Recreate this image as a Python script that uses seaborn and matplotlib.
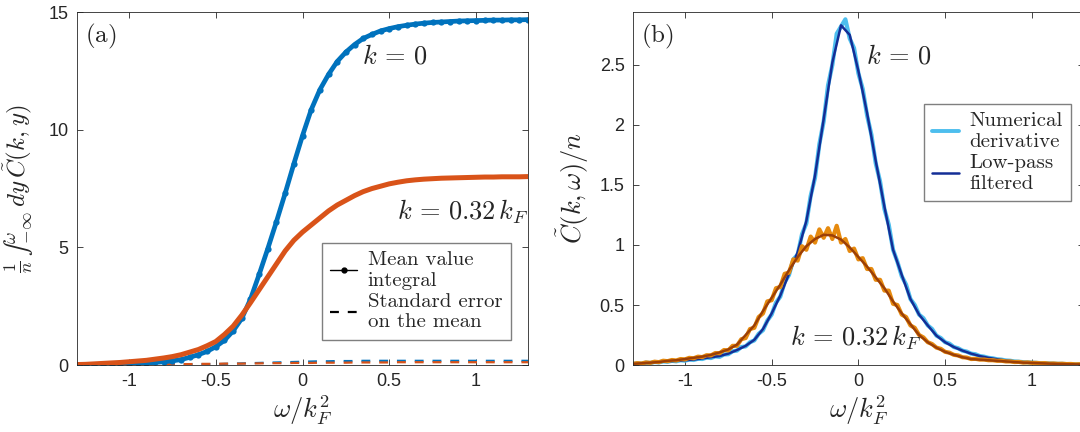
import numpy as np
import matplotlib
matplotlib.use("Agg")
import matplotlib.pyplot as plt
from matplotlib.lines import Line2D
import seaborn as sns

# omega / k_F^2 grids
omega = np.round(np.linspace(-1.3, 1.3, 53), 3)         # step 0.05
omega_fine = np.round(np.linspace(-1.3, 1.3, 105), 3)   # step 0.025

# (a) cumulative integral, k = 0 and k = 0.32 k_F
int_k0 = [0.0, 0.0, 0.01, 0.02, 0.03, 0.04, 0.05, 0.07, 0.09, 0.11, 0.14, 0.18,
          0.23, 0.33, 0.44, 0.58, 0.78, 1.05, 1.45, 1.98, 2.80, 3.85, 4.95,
          6.10, 7.30, 8.55, 9.75, 10.85, 11.70, 12.35, 12.90, 13.30, 13.62,
          13.88, 14.05, 14.20, 14.30, 14.38, 14.44, 14.49, 14.53, 14.56, 14.58,
          14.60, 14.62, 14.63, 14.64, 14.65, 14.66, 14.66, 14.67, 14.67, 14.68]
int_k032 = [0.02, 0.03, 0.05, 0.07, 0.09, 0.11, 0.14, 0.17, 0.20, 0.25, 0.30,
            0.36, 0.44, 0.55, 0.66, 0.82, 1.00, 1.30, 1.65, 2.12, 2.65, 3.20,
            3.75, 4.30, 4.85, 5.30, 5.65, 5.95, 6.25, 6.55, 6.80, 7.00, 7.20,
            7.37, 7.50, 7.60, 7.70, 7.77, 7.83, 7.87, 7.90, 7.92, 7.94, 7.95,
            7.96, 7.97, 7.98, 7.99, 7.99, 8.00, 8.00, 8.00, 8.01]
sem_k0 = [0.0, 0.0, 0.0, 0.0, 0.0, 0.0, 0.01, 0.01, 0.01, 0.01, 0.02, 0.02,
          0.02, 0.03, 0.03, 0.04, 0.04, 0.05, 0.06, 0.07, 0.08, 0.09, 0.10,
          0.11, 0.12, 0.13, 0.14, 0.15, 0.16, 0.16, 0.17, 0.17, 0.17, 0.18,
          0.18, 0.18, 0.18, 0.18, 0.18, 0.18, 0.18, 0.18, 0.18, 0.18, 0.18,
          0.18, 0.18, 0.18, 0.18, 0.18, 0.18, 0.18, 0.18]
sem_k032 = [0.0, 0.0, 0.01, 0.01, 0.01, 0.02, 0.02, 0.02, 0.03, 0.03, 0.03,
            0.04, 0.04, 0.04, 0.05, 0.05, 0.05, 0.06, 0.06, 0.06, 0.07, 0.07,
            0.08, 0.08, 0.08, 0.09, 0.09, 0.09, 0.10, 0.10, 0.10, 0.10, 0.11,
            0.11, 0.11, 0.11, 0.11, 0.12, 0.12, 0.12, 0.12, 0.12, 0.12, 0.12,
            0.12, 0.12, 0.12, 0.12, 0.12, 0.12, 0.12, 0.12, 0.12]

# (b) spectral function, low-pass filtered (step 0.05)
spec_k0 = [0.01, 0.015, 0.02, 0.025, 0.03, 0.035, 0.04, 0.045, 0.055, 0.065,
           0.075, 0.095, 0.125, 0.16, 0.21, 0.30, 0.43, 0.58, 0.76, 0.94,
           1.20, 1.58, 2.05, 2.52, 2.83, 2.75, 2.45, 2.10, 1.70, 1.32, 0.96,
           0.75, 0.55, 0.42, 0.33, 0.245, 0.19, 0.15, 0.12, 0.095, 0.075,
           0.06, 0.048, 0.038, 0.03, 0.024, 0.02, 0.016, 0.013, 0.01, 0.008,
           0.006, 0.005]
spec_k032 = [0.01, 0.015, 0.02, 0.025, 0.035, 0.04, 0.05, 0.06, 0.07, 0.085,
             0.105, 0.13, 0.17, 0.25, 0.33, 0.45, 0.56, 0.67, 0.79, 0.90,
             0.99, 1.05, 1.085, 1.08, 1.045, 0.98, 0.90, 0.82, 0.73, 0.64,
             0.53, 0.43, 0.34, 0.25, 0.19, 0.145, 0.11, 0.085, 0.065, 0.05,
             0.045, 0.04, 0.035, 0.03, 0.025, 0.02, 0.018, 0.015, 0.012, 0.01,
             0.008, 0.006, 0.005]

# (b) numerical derivative (noisy, step 0.025)
deriv_k0 = [0.010, 0.014, 0.012, 0.020, 0.017, 0.025, 0.022, 0.030, 0.027,
            0.035, 0.031, 0.040, 0.036, 0.046, 0.042, 0.052, 0.050, 0.062,
            0.058, 0.072, 0.068, 0.088, 0.090, 0.115, 0.120, 0.150, 0.155,
            0.190, 0.205, 0.26, 0.29, 0.37, 0.42, 0.52, 0.57, 0.69, 0.75,
            0.88, 0.92, 1.09, 1.18, 1.41, 1.56, 1.84, 2.03, 2.33, 2.50, 2.76,
            2.82, 2.88, 2.72, 2.64, 2.43, 2.30, 2.08, 1.92, 1.68, 1.53, 1.30,
            1.17, 0.96, 0.86, 0.74, 0.67, 0.55, 0.50, 0.42, 0.39, 0.33, 0.30,
            0.245, 0.225, 0.19, 0.178, 0.15, 0.140, 0.12, 0.112, 0.095, 0.090,
            0.075, 0.070, 0.060, 0.056, 0.048, 0.045, 0.038, 0.036, 0.030,
            0.028, 0.024, 0.023, 0.020, 0.018, 0.016, 0.015, 0.013, 0.012,
            0.010, 0.010, 0.008, 0.008, 0.006, 0.006, 0.005]
deriv_k032 = [0.010, 0.016, 0.013, 0.022, 0.018, 0.028, 0.024, 0.036, 0.032,
              0.042, 0.038, 0.050, 0.047, 0.060, 0.056, 0.070, 0.066, 0.082,
              0.080, 0.100, 0.098, 0.125, 0.122, 0.160, 0.160, 0.215, 0.225,
              0.300, 0.310, 0.400, 0.430, 0.530, 0.540, 0.640, 0.650, 0.760,
              0.770, 0.880, 0.870, 0.990, 0.960, 1.070, 1.020, 1.130, 1.060,
              1.140, 1.050, 1.160, 1.020, 1.050, 0.950, 0.970, 0.880, 0.890,
              0.800, 0.800, 0.710, 0.710, 0.620, 0.620, 0.510, 0.500, 0.420,
              0.400, 0.330, 0.310, 0.250, 0.230, 0.190, 0.175, 0.145, 0.135,
              0.110, 0.103, 0.085, 0.080, 0.065, 0.062, 0.050, 0.052, 0.045,
              0.046, 0.040, 0.040, 0.035, 0.036, 0.030, 0.030, 0.025, 0.026,
              0.020, 0.022, 0.018, 0.018, 0.015, 0.016, 0.012, 0.013, 0.010,
              0.011, 0.008, 0.009, 0.006, 0.007, 0.005]

sns.set_style("ticks")
plt.rcParams["font.family"] = ["Liberation Sans", "DejaVu Sans"]
plt.rcParams["mathtext.fontset"] = "cm"
plt.rcParams["axes.unicode_minus"] = False

fig = plt.figure(figsize=(10.8, 4.32), dpi=100)
ax1 = fig.add_axes([0.0713, 0.155, 0.4176, 0.817])
ax2 = fig.add_axes([0.586, 0.155, 0.4176, 0.817])

blue, orange = "#0072BD", "#D95319"

# panel (a)
sns.lineplot(x=omega, y=sem_k0, ax=ax1, color=blue, linewidth=1.6,
             linestyle=(0, (4, 4)))
sns.lineplot(x=omega, y=sem_k032, ax=ax1, color=orange, linewidth=1.6,
             linestyle=(0, (4, 4)))
sns.lineplot(x=omega, y=int_k0, ax=ax1, color=blue, linewidth=3.4,
             marker="o", markersize=4.5, markeredgewidth=0)
sns.lineplot(x=omega, y=int_k032, ax=ax1, color=orange, linewidth=3.6)

ax1.set_xlim(-1.3, 1.3)
ax1.set_ylim(0, 15)
ax1.set_yticks([0, 5, 10, 15])
ax1.set_xticks([-1, -0.5, 0, 0.5, 1])
ax1.set_xticklabels(["-1", "-0.5", "0", "0.5", "1"])
ax1.set_xlabel(r"$\omega/k_F^2$", fontsize=19, labelpad=2)
ax1.set_ylabel("$\\frac{1}{n}\\,\u222b_{-\\infty}^{\\omega}\\,dy\\,\\tilde{C}(k,y)$",
               fontsize=18, labelpad=9)
ax1.text(0.017, 0.972, r"$\mathrm{(a)}$", transform=ax1.transAxes,
         fontsize=18, va="top", ha="left")
ax1.text(0.343, 13.1, r"$k\,=\,0$", fontsize=19, va="center", ha="left")
ax1.text(0.545, 6.5, r"$k\,=\,0.32\,k_F$", fontsize=19, va="center", ha="left")

h1 = [Line2D([], [], color="black", linewidth=1.0, marker="o", markersize=3.5),
      Line2D([], [], color="black", linewidth=1.6, linestyle=(0, (4, 4)))]
ax1.legend(h1, ["Mean value\nintegral", "Standard error\non the mean"],
           loc="upper left", bbox_to_anchor=(0.543, 0.347),
           prop={"family": "cmr10", "size": 15}, frameon=True, fancybox=False,
           edgecolor="#7f7f7f", framealpha=1, handlelength=1.3,
           handletextpad=0.5, borderpad=0.4, labelspacing=0.15,
           borderaxespad=0)

# panel (b)
sns.lineplot(x=omega_fine, y=deriv_k0, ax=ax2, color="#4DBEEE", linewidth=3.0)
sns.lineplot(x=omega, y=spec_k0, ax=ax2, color="#142E96", linewidth=1.8)
sns.lineplot(x=omega_fine, y=deriv_k032, ax=ax2, color="#E68A0E", linewidth=3.0)
sns.lineplot(x=omega, y=spec_k032, ax=ax2, color="#9C3F06", linewidth=1.8)

ax2.set_xlim(-1.3, 1.3)
ax2.set_ylim(0, 2.94)
ax2.set_yticks([0, 0.5, 1, 1.5, 2, 2.5])
ax2.set_yticklabels(["0", "0.5", "1", "1.5", "2", "2.5"])
ax2.set_xticks([-1, -0.5, 0, 0.5, 1])
ax2.set_xticklabels(["-1", "-0.5", "0", "0.5", "1"])
ax2.set_xlabel(r"$\omega/k_F^2$", fontsize=19, labelpad=2)
ax2.set_ylabel(r"$\tilde{C}(k,\omega)/n$", fontsize=19, labelpad=6)
ax2.text(0.017, 0.972, r"$\mathrm{(b)}$", transform=ax2.transAxes,
         fontsize=18, va="top", ha="left")
ax2.text(0.046, 2.57, r"$k\,=\,0$", fontsize=19, va="center", ha="left")
ax2.text(-0.397, 0.225, r"$k\,=\,0.32\,k_F$", fontsize=19, va="center",
         ha="left")

h2 = [Line2D([], [], color="#4DBEEE", linewidth=2.8),
      Line2D([], [], color="#142E96", linewidth=1.8)]
ax2.legend(h2, ["Numerical\nderivative", "Low-pass\nfiltered"],
           loc="upper left", bbox_to_anchor=(0.645, 0.74),
           prop={"family": "cmr10", "size": 15}, frameon=True, fancybox=False,
           edgecolor="#7f7f7f", framealpha=1, handlelength=1.3,
           handletextpad=0.5, borderpad=0.4, labelspacing=0.15,
           borderaxespad=0)

for ax in (ax1, ax2):
    ax.tick_params(direction="in", length=4, width=0.6, labelsize=13,
                   colors="#262626", top=True, right=True, pad=6)
    for s in ax.spines.values():
        s.set_visible(True)
        s.set_linewidth(0.6)
        s.set_color("#262626")

fig.savefig("out.png", dpi=100)
